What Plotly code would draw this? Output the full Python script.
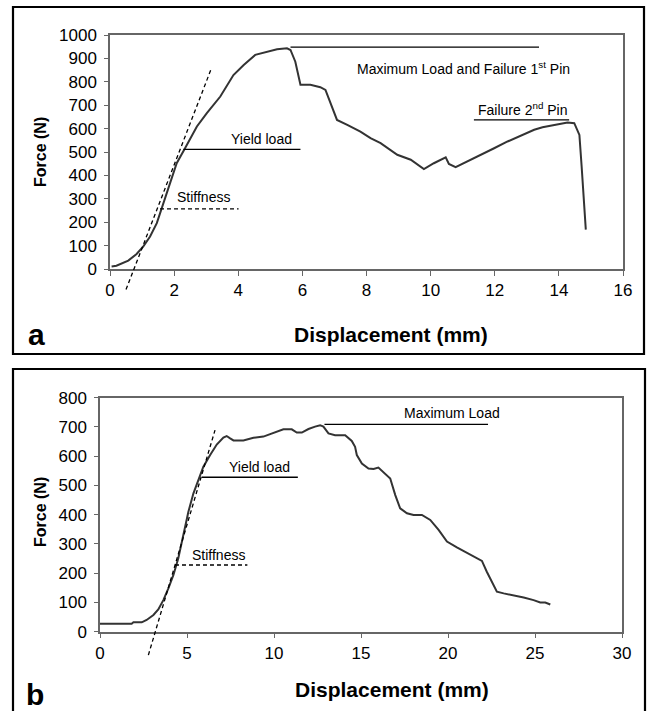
import plotly.graph_objects as go

W, H = 647, 711

# ---------------- data: panel a ----------------
a_disp = [0.05, 0.2, 0.57, 0.83, 1.04, 1.25, 1.46, 1.67, 1.875, 2.08, 2.34, 2.71, 3.02, 3.44, 3.85,
          4.17, 4.53, 4.9, 5.21, 5.52, 5.63, 5.78, 5.94, 6.25, 6.56, 6.72, 6.875, 7.08, 7.4, 7.81,
          8.125, 8.44, 8.96, 9.38, 9.79, 10.1, 10.47, 10.57, 10.78, 11.15, 11.56, 11.98, 12.4, 12.81,
          13.23, 13.49, 13.85, 14.27, 14.48, 14.64, 14.71, 14.79, 14.84]
a_force = [11, 14, 36, 64, 97, 139, 196, 282, 367, 452, 516, 609, 666, 737, 829,
           872, 915, 929, 939, 943, 936, 886, 787, 787, 777, 765, 708, 637, 616, 587,
           559, 538, 488, 467, 427, 452, 477, 449, 435, 459, 488, 516, 545, 569,
           595, 606, 615, 626, 623, 573, 438, 239, 168]
a_tangent_x = [0.5, 3.15]
a_tangent_y = [-88, 853]
a_stiff_x = [1.56, 4.01]
a_stiff_y = [257, 257]
a_yield_x = [2.29, 5.94]
a_yield_y = [511, 511]
a_max_x = [5.63, 13.38]
a_max_y = [948, 948]
a_fail2_x = [11.35, 14.32]
a_fail2_y = [637, 637]
a_xticks = [0, 2, 4, 6, 8, 10, 12, 14, 16]
a_yticks = [0, 100, 200, 300, 400, 500, 600, 700, 800, 900, 1000]

# ---------------- data: panel b ----------------
b_disp = [0, 1.82, 1.92, 2.40, 2.68, 3.07, 3.35, 3.64, 3.93, 4.22, 4.50, 4.79, 5.08, 5.37, 5.65,
          5.94, 6.33, 6.71, 7.09, 7.28, 7.48, 7.67, 8.24, 8.82, 9.39, 9.78, 10.16, 10.54, 11.02,
          11.31, 11.60, 11.98, 12.36, 12.65, 12.84, 13.13, 13.51, 14.09, 14.47, 14.66, 14.76,
          15.05, 15.43, 15.72, 16.0, 16.39, 16.68, 16.97, 17.25, 17.64, 18.02, 18.5, 18.98, 19.46,
          19.94, 20.51, 21.09, 21.57, 21.95, 22.23, 22.52, 22.81, 23.2, 23.77, 24.35, 24.92, 25.3,
          25.59, 25.88]
b_force = [27, 27, 32, 32, 40, 57, 76, 108, 148, 194, 251, 330, 410, 473, 518,
           564, 604, 640, 664, 669, 661, 654, 654, 663, 667, 676, 684, 692, 692,
           681, 681, 693, 701, 706, 701, 678, 672, 672, 652, 632, 604,
           575, 558, 556, 561, 541, 524, 467, 422, 405, 399, 399, 382, 348,
           308, 288, 270, 256, 242, 205, 171, 137, 131, 125, 117, 108, 100,
           100, 93]
b_tangent_x = [2.78, 6.61]
b_tangent_y = [-80, 689]
b_stiff_x = [4.31, 8.47]
b_stiff_y = [228, 228]
b_yield_x = [5.85, 11.37]
b_yield_y = [528, 528]
b_max_x = [12.9, 22.3]
b_max_y = [709, 709]
b_xticks = [0, 5, 10, 15, 20, 25, 30]
b_yticks = [0, 100, 200, 300, 400, 500, 600, 700, 800]

a_xrange = [0, 16]
a_yrange = [0, 1000]
b_xrange = [0, 30]
b_yrange = [0, 800]

# ---------------- layout geometry (pixels) ----------------
A_L, A_R, A_T, A_B = 110, 623, 35, 269
B_L, B_R, B_T, B_B = 100, 622, 397.7, 631.7
EXT = 30  # extra pixels below the axis for the tangent line overlay


def px(x):
    return x / W


def py(y):
    return 1 - y / H


FONT = "Liberation Sans, Arial, sans-serif"
CURVE = "#333333"
FRAME = "#666666"

fig = go.Figure()

# main curves
fig.add_trace(go.Scatter(x=a_disp, y=a_force, mode="lines", line=dict(color=CURVE, width=2),
                         xaxis="x", yaxis="y", showlegend=False, hoverinfo="skip"))
fig.add_trace(go.Scatter(x=b_disp, y=b_force, mode="lines", line=dict(color=CURVE, width=2),
                         xaxis="x2", yaxis="y2", showlegend=False, hoverinfo="skip"))

# reference lines
for xs, ys, ax, ay, dash in [
    (a_stiff_x, a_stiff_y, "x", "y", "4px,3px"),
    (a_yield_x, a_yield_y, "x", "y", "solid"),
    (a_max_x, a_max_y, "x", "y", "solid"),
    (a_fail2_x, a_fail2_y, "x", "y", "solid"),
    (b_stiff_x, b_stiff_y, "x2", "y2", "4px,3px"),
    (b_yield_x, b_yield_y, "x2", "y2", "solid"),
    (b_max_x, b_max_y, "x2", "y2", "solid"),
]:
    fig.add_trace(go.Scatter(x=xs, y=ys, mode="lines", line=dict(color="black", width=1.3, dash=dash),
                             xaxis=ax, yaxis=ay, showlegend=False, hoverinfo="skip"))

# tangent (stiffness) lines on extended invisible overlay axes
fig.add_trace(go.Scatter(x=a_tangent_x, y=a_tangent_y, mode="lines",
                         line=dict(color="black", width=1.3, dash="4px,3px"),
                         xaxis="x3", yaxis="y3", showlegend=False, hoverinfo="skip"))
fig.add_trace(go.Scatter(x=b_tangent_x, y=b_tangent_y, mode="lines",
                         line=dict(color="black", width=1.3, dash="4px,3px"),
                         xaxis="x4", yaxis="y4", showlegend=False, hoverinfo="skip"))

a_ext = (a_yrange[1] - a_yrange[0]) * EXT / (A_B - A_T)
b_ext = (b_yrange[1] - b_yrange[0]) * EXT / (B_B - B_T)

axis_common = dict(showline=True, mirror=True, linecolor=FRAME, linewidth=1.5,
                   ticks="outside", tickcolor=FRAME, tickwidth=1.3, showgrid=False,
                   zeroline=False, tickfont=dict(family=FONT, size=17, color="black"),
                   automargin=False)

fig.update_layout(
    width=W, height=H,
    margin=dict(l=0, r=0, t=0, b=0),
    paper_bgcolor="white", plot_bgcolor="rgba(0,0,0,0)",
    xaxis=dict(domain=[px(A_L), px(A_R)], range=a_xrange, tickvals=a_xticks, anchor="y",
               ticklen=5, ticklabelstandoff=0, **axis_common),
    yaxis=dict(domain=[py(A_B), py(A_T)], range=a_yrange, tickvals=a_yticks, anchor="x",
               ticklen=4, ticklabelstandoff=4, **axis_common),
    xaxis2=dict(domain=[px(B_L), px(B_R)], range=b_xrange, tickvals=b_xticks, anchor="y2",
                ticklen=5, ticklabelstandoff=0, **axis_common),
    yaxis2=dict(domain=[py(B_B), py(B_T)], range=b_yrange, tickvals=b_yticks, anchor="x2",
                ticklen=4, ticklabelstandoff=4, **axis_common),
    xaxis3=dict(domain=[px(A_L), px(A_R)], range=a_xrange, anchor="y3", visible=False),
    yaxis3=dict(domain=[py(A_B + EXT), py(A_T)], range=[a_yrange[0] - a_ext, a_yrange[1]],
                anchor="x3", visible=False),
    xaxis4=dict(domain=[px(B_L), px(B_R)], range=b_xrange, anchor="y4", visible=False),
    yaxis4=dict(domain=[py(B_B + EXT), py(B_T)], range=[b_yrange[0] - b_ext, b_yrange[1]],
                anchor="x4", visible=False),
    shapes=[
        dict(type="rect", xref="paper", yref="paper", x0=px(13), x1=px(644), y0=py(354), y1=py(7),
             line=dict(color="black", width=2.2)),
        dict(type="rect", xref="paper", yref="paper", x0=px(13), x1=px(645), y0=py(720), y1=py(369),
             line=dict(color="black", width=2.2)),
    ],
)

ann_font = dict(family=FONT, size=14, color="black")
annotations = [
    dict(x=2.93, y=307, xref="x", yref="y", text="Stiffness"),
    dict(x=4.74, y=555, xref="x", yref="y", text="Yield load"),
    dict(x=11.03, y=858, xref="x", yref="y", text="Maximum Load and Failure 1<sup>st</sup> Pin"),
    dict(x=12.87, y=684, xref="x", yref="y", text="Failure 2<sup>nd</sup> Pin"),
    dict(x=6.79, y=262, xref="x2", yref="y2", text="Stiffness"),
    dict(x=9.18, y=562, xref="x2", yref="y2", text="Yield load"),
    dict(x=20.24, y=747, xref="x2", yref="y2", text="Maximum Load"),
]
for a in annotations:
    a.update(showarrow=False, font=ann_font, xanchor="center", yanchor="middle")

title_font = dict(family=FONT, size=21, color="black")
ytitle_font = dict(family=FONT, size=16, color="black")
annotations += [
    dict(x=px(391), y=py(334), xref="paper", yref="paper", text="<b>Displacement (mm)</b>",
         font=title_font, showarrow=False, xanchor="center", yanchor="middle"),
    dict(x=px(392), y=py(689), xref="paper", yref="paper", text="<b>Displacement (mm)</b>",
         font=title_font, showarrow=False, xanchor="center", yanchor="middle"),
    dict(x=px(41), y=py(152), xref="paper", yref="paper", text="<b>Force (N)</b>", textangle=-90,
         font=ytitle_font, showarrow=False, xanchor="center", yanchor="middle"),
    dict(x=px(40), y=py(512), xref="paper", yref="paper", text="<b>Force (N)</b>", textangle=-90,
         font=ytitle_font, showarrow=False, xanchor="center", yanchor="middle"),
    dict(x=px(36), y=py(335), xref="paper", yref="paper", text="<b>a</b>",
         font=dict(family=FONT, size=30, color="black"), showarrow=False,
         xanchor="center", yanchor="middle"),
    dict(x=px(35), y=py(694), xref="paper", yref="paper", text="<b>b</b>",
         font=dict(family=FONT, size=30, color="black"), showarrow=False,
         xanchor="center", yanchor="middle"),
]
fig.update_layout(annotations=annotations)

fig.write_html("out.html", config={"displayModeBar": False},
               post_script="document.body.style.margin='0';document.body.style.overflow='hidden';")
